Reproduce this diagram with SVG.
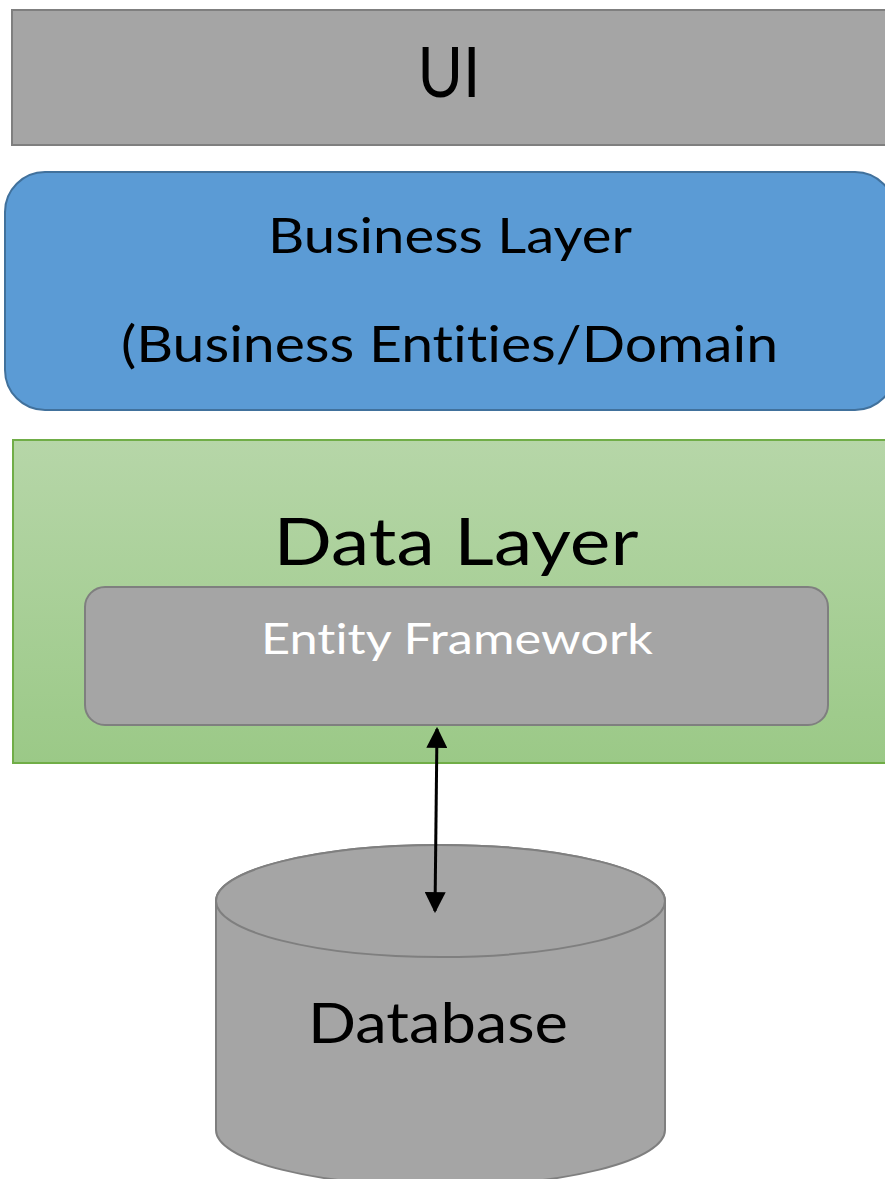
<svg xmlns="http://www.w3.org/2000/svg" width="885" height="1179" viewBox="0 0 885 1179">
<defs>
<linearGradient id="gGreen" x1="0" y1="0" x2="0" y2="1">
<stop offset="0" stop-color="#b6d6a8"/>
<stop offset="1" stop-color="#9bc987"/>
</linearGradient>
<marker id="ah" viewBox="0 0 10 10" refX="9" refY="5" markerWidth="7" markerHeight="7" markerUnits="strokeWidth" orient="auto-start-reverse">
<path d="M0,0 L10,5 L0,10 z" fill="#000"/>
</marker>
<style>
.lbl{font-family:Lato,"Liberation Sans",sans-serif;text-anchor:middle;fill:#000;font-variant-ligatures:none;font-feature-settings:"liga" 0,"dlig" 0}
.gray{fill:#a5a5a5;stroke:#7f7f7f;stroke-width:2}
</style>
</defs>
<rect width="885" height="1179" fill="#fff"/>
<g id="ui">
<rect class="gray" x="12" y="10" width="890" height="135"/>
<text class="lbl" x="449" y="97" font-size="70" textLength="63" lengthAdjust="spacingAndGlyphs">UI</text>
</g>
<g id="business">
<rect x="5" y="172" width="890" height="238" rx="40" ry="40" fill="#5b9bd5" stroke="#41719c" stroke-width="2"/>
<text class="lbl" x="450" y="253" font-size="49" textLength="364" lengthAdjust="spacingAndGlyphs">Business Layer</text>
<text class="lbl" x="449.5" y="362" font-size="50" textLength="657" lengthAdjust="spacingAndGlyphs">(Business Entities/Domain</text>
</g>
<g id="datalayer">
<rect x="13" y="440" width="890" height="323" fill="url(#gGreen)" stroke="#70ad47" stroke-width="2"/>
<text class="lbl" x="456" y="565" font-size="66" textLength="365" lengthAdjust="spacingAndGlyphs">Data Layer</text>
</g>
<g id="ef">
<rect class="gray" x="85" y="587" width="743" height="138" rx="20" ry="20"/>
<text class="lbl" x="457" y="654" font-size="43" textLength="392" lengthAdjust="spacingAndGlyphs" style="fill:#fff">Entity Framework</text>
</g>
<g id="database">
<path class="gray" d="M216,901 L216,1130 A224.5,56 0 0 0 665,1130 L665,901 A224.5,56 0 0 0 216,901 z"/>
<ellipse cx="440.5" cy="901" rx="224.5" ry="56" fill="#a5a5a5" stroke="#7f7f7f" stroke-width="2"/>
<text class="lbl" x="438" y="1043" font-size="57" textLength="260" lengthAdjust="spacingAndGlyphs">Database</text>
</g>
<g id="connectors">
<line x1="437" y1="729" x2="435" y2="911" stroke="#000" stroke-width="3" marker-start="url(#ah)" marker-end="url(#ah)"/>
</g>
</svg>
